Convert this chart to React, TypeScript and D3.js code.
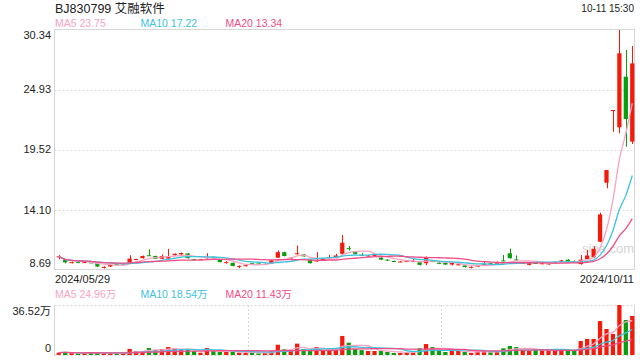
import React from 'react';
import * as d3 from 'd3';

const title = 'BJ830799 艾融软件';
const timeLabel = '10-11 15:30';
const dateLabels = ['2024/05/29', '2024/10/11'];
const priceTicks = [30.34, 24.93, 19.52, 14.1, 8.69];
const priceTickLabels = ['30.34', '24.93', '19.52', '14.10', '8.69'];
const volTickLabels = ['36.52万', '0'];
const volMax = 36.52;
const maLegend = ['MA5 23.75', 'MA10 17.22', 'MA20 13.34'];
const volLegend = ['MA5 24.96万', 'MA10 18.54万', 'MA20 11.43万'];

const opens = [9.85, 9.62, 9.36, 9.4, 9.36, 9.38, 9.3, 8.95, 9.0, 9.22, 9.24, 9.36, 9.62, 9.76, 10.02, 9.95, 9.7, 9.72, 10.02, 10.1,
  10.18, 9.66, 9.62, 9.75, 9.86, 9.64, 9.38, 9.34, 9.03, 9.08, 9.3, 9.28, 9.2, 9.26, 9.8, 10.3, 9.74, 10.14, 10.1, 9.62,
  9.48, 9.55, 9.78, 9.85, 10.15, 10.66, 10.36, 10.06, 9.94, 9.96, 9.8, 9.62, 9.5, 9.44, 9.44, 9.46, 9.45, 9.3, 9.5, 9.35,
  9.33, 9.18, 9.18, 9.1, 8.96, 9.0, 9.2, 9.3, 9.3, 9.55, 10.2, 9.64, 9.3, 9.15, 9.32, 9.26, 9.24, 9.3, 9.45, 9.62,
  9.5, 9.22, 9.66, 9.84, 11.24, 16.56, 23.1, 21.56, 26.13, 20.27];
const highs = [10.05, 9.68, 9.46, 9.44, 9.44, 9.42, 9.32, 9.02, 9.2, 9.26, 9.3, 10.02, 9.7, 10.0, 10.55, 9.98, 10.1, 10.6, 10.18, 10.26,
  10.22, 9.7, 9.7, 10.2, 9.9, 9.66, 9.48, 9.36, 9.1, 9.16, 9.34, 9.3, 9.3, 9.6, 10.45, 10.34, 9.84, 10.9, 10.14, 9.66,
  10.3, 9.74, 10.06, 10.15, 11.85, 10.86, 10.4, 10.24, 10.04, 10.08, 9.84, 9.66, 9.54, 9.5, 9.52, 9.78, 9.48, 9.9, 9.55, 9.38,
  9.36, 9.34, 9.22, 9.12, 9.02, 9.14, 9.45, 9.34, 9.46, 10.04, 10.62, 10.0, 9.38, 9.38, 9.36, 9.46, 9.4, 9.4, 9.6, 9.66,
  9.56, 10.04, 10.5, 10.82, 13.86, 17.72, 23.12, 30.34, 28.54, 28.9];
const lows = [9.65, 9.3, 9.28, 9.34, 9.32, 9.3, 8.95, 8.82, 8.96, 9.14, 9.2, 9.32, 9.58, 9.72, 9.98, 9.68, 9.66, 9.68, 9.98, 10.06,
  9.72, 9.58, 9.58, 9.72, 9.76, 9.38, 9.26, 9.02, 8.85, 9.02, 9.24, 9.22, 9.14, 9.24, 9.78, 9.92, 9.7, 10.1, 9.9, 9.28,
  9.44, 9.5, 9.74, 9.82, 10.1, 10.45, 10.1, 9.94, 9.9, 9.92, 9.58, 9.54, 9.42, 9.4, 9.4, 9.42, 9.1, 9.12, 9.4, 9.22,
  9.15, 9.1, 9.12, 8.92, 8.84, 8.98, 9.12, 9.25, 9.26, 9.5, 9.72, 9.58, 9.26, 9.1, 9.26, 9.2, 9.18, 9.26, 9.42, 9.42,
  9.42, 9.18, 9.6, 9.76, 11.2, 16.06, 21.16, 21.02, 19.81, 20.06];
const closes = [9.92, 9.38, 9.4, 9.37, 9.4, 9.33, 9.0, 8.97, 9.15, 9.16, 9.28, 9.72, 9.68, 9.95, 9.98, 9.7, 9.95, 9.92, 10.15, 10.22,
  9.76, 9.62, 9.65, 9.86, 9.8, 9.4, 9.4, 9.05, 9.06, 9.12, 9.28, 9.26, 9.23, 9.56, 10.3, 9.95, 9.8, 10.2, 9.92, 9.3,
  9.55, 9.7, 9.84, 10.0, 11.15, 10.6, 10.15, 10.02, 10.0, 10.05, 9.62, 9.58, 9.46, 9.46, 9.5, 9.52, 9.15, 9.85, 9.48, 9.25,
  9.18, 9.32, 9.2, 8.95, 8.98, 9.12, 9.22, 9.28, 9.34, 9.5, 9.75, 9.6, 9.32, 9.35, 9.3, 9.3, 9.28, 9.36, 9.55, 9.45,
  9.46, 9.62, 10.0, 10.6, 13.7, 17.71, 23.12, 28.24, 22.31, 27.33];
const volumes = [1.7, 2.0, 1.7, 1.0, 1.7, 1.7, 1.7, 1.2, 1.2, 1.2, 1.2, 4.4, 2.9, 2.9, 5.1, 3.6, 4.4, 5.8, 4.4, 3.6,
  3.6, 2.9, 1.7, 5.1, 2.9, 2.2, 2.2, 2.2, 1.7, 1.7, 1.7, 1.2, 1.7, 2.9, 7.5, 4.4, 2.9, 8.3, 4.4, 2.9,
  5.8, 3.6, 3.6, 4.2, 13.9, 9.0, 4.4, 3.6, 2.9, 2.9, 2.9, 2.2, 1.5, 1.5, 1.5, 2.9, 4.9, 8.0, 5.8, 2.9,
  2.2, 2.9, 2.9, 2.2, 1.5, 2.2, 2.9, 2.2, 2.9, 4.9, 6.6, 5.8, 3.6, 2.9, 3.6, 3.6, 3.6, 2.9, 3.6, 3.6,
  2.9, 10.2, 11.7, 11.7, 24.8, 19.0, 15.4, 36.52, 25.6, 28.5];

const RED = '#f5190a';
const GREEN = '#0b9d0b';
const MA_COLORS = ['#f7a3c3', '#3ec3de', '#f04d86'];
const FONT = "Arial, 'Liberation Sans', 'Noto Sans CJK SC', sans-serif";

function movingAvg(arr: number[], n: number): number[] {
  return arr.map((_, i) => {
    const s = Math.max(0, i - n + 1);
    const slice = arr.slice(s, i + 1);
    return d3.mean(slice) as number;
  });
}

export default function App() {
  const W = 640, H = 360;
  const left = 54.5, right = 634.5;
  const top = 30, bottom = 270;
  const vTop = 305, vBottom = 355;
  const idx = d3.range(closes.length);

  const x = d3.scaleBand<number>().domain(idx).range([55.5, 635.5]).paddingInner(0.34).paddingOuter(0.17);
  const cx = (i: number) => (x(i) as number) + x.bandwidth() / 2;
  const y = d3.scaleLinear().domain([priceTicks[priceTicks.length - 1], priceTicks[0]]).range([bottom, top]);
  const yv = d3.scaleLinear().domain([0, volMax]).range([vBottom, vTop]);

  const periods = [5, 10, 20];
  const priceMAs = periods.map(p => movingAvg(closes, p));
  const volMAs = periods.map(p => movingAvg(volumes, p));
  const line = d3.line<number>().x((_, i) => cx(i)).y(d => y(d)).curve(d3.curveMonotoneX);
  const vline = d3.line<number>().x((_, i) => cx(i)).y(d => yv(d)).curve(d3.curveMonotoneX);

  const bw = x.bandwidth();
  const legendX = [55, 140.5, 225.5];

  return (
    <svg width={W} height={H} style={{ position: 'absolute', left: 0, top: 0, background: '#fff' }} fontFamily={FONT}>
      <rect x={0} y={0} width={W} height={H} fill="#fff" />
      <text x={55} y={12.5} fontSize={12.5} fill="#222">{title}</text>
      <text x={634} y={12} fontSize={10} fill="#222" textAnchor="end">{timeLabel}</text>
      {maLegend.map((t, k) => (
        <text key={k} x={legendX[k]} y={27} fontSize={10.5} fill={MA_COLORS[k]}>{t}</text>
      ))}

      {/* price grid */}
      {priceTicks.slice(1, -1).map((t, k) => (
        <line key={k} x1={left} x2={right} y1={Math.round(y(t)) + 0.5} y2={Math.round(y(t)) + 0.5}
          stroke="#ddd" strokeDasharray="2,2" />
      ))}
      <rect x={left} y={top - 0.5} width={right - left} height={bottom - top} fill="none" stroke="#d6d6d6" />
      {priceTicks.map((t, k) => {
        const yy = k === 0 ? y(t) + 8.5 : k === priceTicks.length - 1 ? y(t) - 3.5 : y(t) + 3.5;
        return <text key={k} x={51} y={yy} fontSize={11} fill="#222" textAnchor="end">{priceTickLabels[k]}</text>;
      })}

      <text x={582} y={253} fontSize={13} fill="#d4d4d4">sina.com</text>

      {/* candles */}
      {idx.map(i => {
        const up = closes[i] >= opens[i];
        const c = up ? RED : GREEN;
        const yTop = y(Math.max(opens[i], closes[i]));
        const yBot = y(Math.min(opens[i], closes[i]));
        const xc = Math.round(cx(i)) + 0.5;
        return (
          <g key={i}>
            <line x1={xc} x2={xc} y1={y(highs[i])} y2={y(lows[i])} stroke={c} strokeWidth={1} />
            <rect x={x(i)} y={yTop} width={bw} height={Math.max(1, yBot - yTop)} fill={c} />
          </g>
        );
      })}
      {priceMAs.map((m, k) => (
        <path key={k} d={line(m) as string} fill="none" stroke={MA_COLORS[k]} strokeWidth={1.3} />
      ))}

      <text x={55} y={282.5} fontSize={11} fill="#222">{dateLabels[0]}</text>
      <text x={634} y={282.5} fontSize={11} fill="#222" textAnchor="end">{dateLabels[1]}</text>

      {volLegend.map((t, k) => (
        <text key={k} x={legendX[k]} y={298} fontSize={10.5} fill={MA_COLORS[k]}>{t}</text>
      ))}

      {/* volume panel */}
      <line x1={left} x2={right} y1={vTop + 0.5} y2={vTop + 0.5} stroke="#d6d6d6" strokeDasharray="2,2" />
      <line x1={left} x2={right} y1={vBottom + 0.5} y2={vBottom + 0.5} stroke="#d6d6d6" strokeDasharray="2,2" />
      {[1, 2].map(k => {
        const xx = Math.round(left + (right - left) * k / 3) + 0.5;
        return <line key={k} x1={xx} x2={xx} y1={vTop} y2={vBottom} stroke="#d6d6d6" strokeDasharray="2,2" />;
      })}
      <line x1={left} x2={left} y1={vTop} y2={vBottom + 1} stroke="#d6d6d6" />
      <line x1={right} x2={right} y1={vTop} y2={vBottom + 1} stroke="#d6d6d6" />
      <text x={51} y={315} fontSize={11} fill="#222" textAnchor="end">{volTickLabels[0]}</text>
      <text x={51} y={352} fontSize={11} fill="#222" textAnchor="end">{volTickLabels[1]}</text>
      {idx.map(i => {
        const up = closes[i] >= opens[i];
        const yy = yv(volumes[i]);
        return <rect key={i} x={x(i)} y={yy} width={bw} height={Math.max(1, vBottom - yy)} fill={up ? RED : GREEN} />;
      })}
      {volMAs.map((m, k) => (
        <path key={k} d={vline(m) as string} fill="none" stroke={MA_COLORS[k]} strokeWidth={1.3} />
      ))}
    </svg>
  );
}
